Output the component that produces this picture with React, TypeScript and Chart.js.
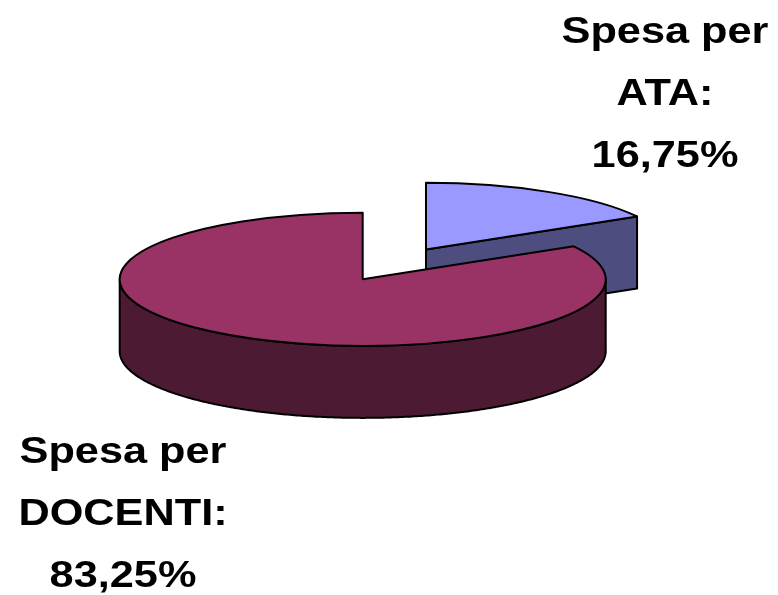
import { useEffect, useRef } from 'react';
import { Chart, registerables } from 'chart.js';

Chart.register(...registerables);

// ---- data ----
const categories = ['ATA', 'DOCENTI'];
const values = [16.75, 83.25];
const labelPrefix = 'Spesa per';
const topColors = ['#9999FF', '#993366'];
const sideColors = ['#4D4D80', '#4C1A33'];
const explode = [126, 0];

// ---- layout ----
const W = 778;
const H = 595;
const CX = 362.7; // screen centre of pie top
const CY = 279.3;
const TILT = 0.274; // vertical squash of the pie
const DEPTH = 72; // wall thickness in px
const RADIUS = 243;
const LABEL_POS = [
  { x: 665, y: 43.3 },
  { x: 123, y: 463.3 },
];
const LINE_H = 61.7;
const TEXT_STRETCH = 1.17;

const fmt = (v: number) => v.toFixed(2).replace('.', ',') + '%';

const pie3d = {
  id: 'pie3d',
  afterDatasetsUpdate(chart: any) {
    const meta = chart.getDatasetMeta(0);
    meta.data.forEach((arc: any, i: number) => {
      const d = explode[i] || 0;
      if (!d) return;
      const mid = (arc.startAngle + arc.endAngle) / 2;
      arc.x += Math.cos(mid) * d;
      arc.y += Math.sin(mid) * d;
    });
  },
  beforeDatasetsDraw(chart: any) {
    const ctx: CanvasRenderingContext2D = chart.ctx;
    const { chartArea } = chart;
    const ox = (chartArea.left + chartArea.right) / 2;
    const oy = (chartArea.top + chartArea.bottom) / 2;
    const map = (x: number, y: number): [number, number] => [CX + (x - ox), CY + (y - oy) * TILT];
    const meta = chart.getDatasetMeta(0);

    meta.data.forEach((arc: any, i: number) => {
      const { x, y, startAngle: s, endAngle: e, outerRadius: R } = arc;
      ctx.save();
      ctx.fillStyle = sideColors[i];
      ctx.strokeStyle = '#000';
      ctx.lineWidth = 2;
      ctx.lineJoin = 'round';

      const face = (a: number) => {
        const P = map(x, y);
        const Q = map(x + R * Math.cos(a), y + R * Math.sin(a));
        ctx.beginPath();
        ctx.moveTo(P[0], P[1]);
        ctx.lineTo(Q[0], Q[1]);
        ctx.lineTo(Q[0], Q[1] + DEPTH);
        ctx.lineTo(P[0], P[1] + DEPTH);
        ctx.closePath();
        ctx.fill();
        ctx.stroke();
      };
      const wall = (lo: number, hi: number) => {
        const n = Math.max(2, Math.ceil((hi - lo) / 0.01));
        const pts: [number, number][] = [];
        for (let j = 0; j <= n; j++) {
          const a = lo + ((hi - lo) * j) / n;
          pts.push(map(x + R * Math.cos(a), y + R * Math.sin(a)));
        }
        ctx.beginPath();
        pts.forEach((p, j) => (j ? ctx.lineTo(p[0], p[1]) : ctx.moveTo(p[0], p[1])));
        for (let j = pts.length - 1; j >= 0; j--) ctx.lineTo(pts[j][0], pts[j][1] + DEPTH);
        ctx.closePath();
        ctx.fill();
        ctx.stroke();
      };

      if (Math.cos(s) < -1e-6) face(s);
      if (Math.cos(e) > 1e-6) face(e);
      for (let k = -1; k <= 2; k++) {
        const lo = Math.max(s, 2 * Math.PI * k);
        const hi = Math.min(e, Math.PI + 2 * Math.PI * k);
        if (hi > lo) wall(lo, hi);
      }
      ctx.restore();
    });

    // squash the library's own pie drawing into an ellipse
    ctx.save();
    ctx.translate(CX, CY);
    ctx.scale(1, TILT);
    ctx.translate(-ox, -oy);
  },
  afterDatasetsDraw(chart: any) {
    const ctx: CanvasRenderingContext2D = chart.ctx;
    ctx.restore();
    const { chartArea } = chart;
    const ox = (chartArea.left + chartArea.right) / 2;
    const oy = (chartArea.top + chartArea.bottom) / 2;
    const meta = chart.getDatasetMeta(0);

    // outlines of the tops
    meta.data.forEach((arc: any) => {
      const { x, y, startAngle: s, endAngle: e, outerRadius: R } = arc;
      ctx.save();
      ctx.translate(CX, CY);
      ctx.scale(1, TILT);
      ctx.translate(-ox, -oy);
      ctx.beginPath();
      ctx.moveTo(x, y);
      ctx.arc(x, y, R, s, e);
      ctx.closePath();
      ctx.restore();
      ctx.save();
      ctx.strokeStyle = '#000';
      ctx.lineWidth = 2;
      ctx.lineJoin = 'round';
      ctx.stroke();
      ctx.restore();
    });

    // labels
    ctx.save();
    ctx.fillStyle = '#000';
    ctx.font = 'bold 37px "Liberation Sans", Arial, sans-serif';
    ctx.textAlign = 'center';
    ctx.textBaseline = 'alphabetic';
    categories.forEach((cat, i) => {
      const lines = [labelPrefix, cat + ':', fmt(values[i])];
      lines.forEach((line, j) => {
        ctx.save();
        ctx.translate(LABEL_POS[i].x, LABEL_POS[i].y + j * LINE_H);
        ctx.scale(TEXT_STRETCH, 1);
        ctx.fillText(line, 0, 0);
        ctx.restore();
      });
    });
    ctx.restore();
  },
};

export default function App() {
  const ref = useRef<HTMLCanvasElement | null>(null);
  useEffect(() => {
    if (!ref.current) return;
    const chart = new Chart(ref.current, {
      type: 'pie',
      data: {
        labels: categories.map((c) => `${labelPrefix} ${c}`),
        datasets: [
          {
            data: values,
            backgroundColor: topColors,
            borderWidth: 0,
            clip: false as any,
          },
        ],
      },
      options: {
        animation: false,
        responsive: false,
        events: [],
        radius: RADIUS,
        layout: { padding: 0 },
        plugins: {
          legend: { display: false },
          tooltip: { enabled: false },
        },
      } as any,
      plugins: [pie3d],
    });
    return () => chart.destroy();
  }, []);
  return (
    <div style={{ position: 'fixed', left: 0, top: 0, width: W, height: H, background: '#fff' }}>
      <canvas ref={ref} width={W} height={H} style={{ display: 'block' }} />
    </div>
  );
}
